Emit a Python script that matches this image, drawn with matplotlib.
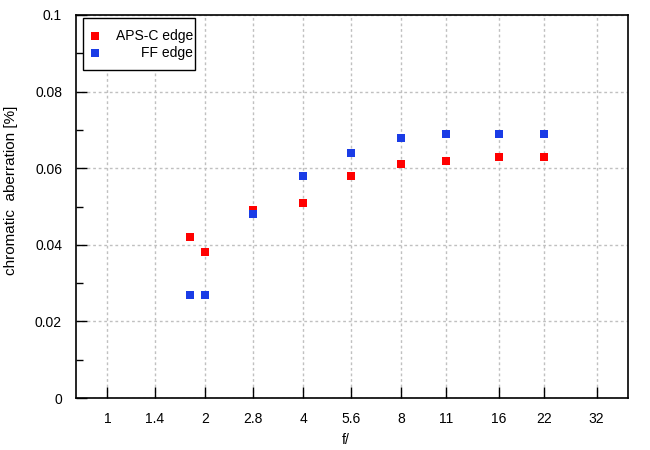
import matplotlib
matplotlib.use("Agg")
import matplotlib.pyplot as plt
from matplotlib.ticker import FixedLocator, NullLocator, MultipleLocator
from matplotlib.patches import Rectangle

plt.rcParams['font.family'] = ['Liberation Sans', 'DejaVu Sans']

f_stops = [1.8, 2, 2.8, 4, 5.6, 8, 11, 16, 22]
aps_c_edge = [0.042, 0.038, 0.049, 0.051, 0.058, 0.061, 0.062, 0.063, 0.063]
ff_edge = [0.027, 0.027, 0.048, 0.058, 0.064, 0.068, 0.069, 0.069, 0.069]
x_ticks = [1, 1.4, 2, 2.8, 4, 5.6, 8, 11, 16, 22, 32]
x_tick_labels = ['1', '1.4', '2', '2.8', '4', '5.6', '8', '11', '16', '22', '32']
y_ticks = [0, 0.02, 0.04, 0.06, 0.08, 0.1]
y_tick_labels = ['0', '0.02', '0.04', '0.06', '0.08', '0.1']

red = '#ff0000'
blue = '#1a3ce6'
fs = 10

fig = plt.figure(figsize=(6.5, 4.5), dpi=100)
ax = fig.add_axes([76/650, 1-398/450, (628-76)/650, (398-15)/450])

ax.set_xscale('log', base=2)
ax.set_xlim(0.8, 40)
ax.set_ylim(0, 0.1)

ax.plot(f_stops, aps_c_edge, 's', color=red, markersize=5.2, markeredgewidth=0, zorder=3)
ax.plot(f_stops, ff_edge, 's', color=blue, markersize=5.2, markeredgewidth=0, zorder=3)

ax.xaxis.set_major_locator(FixedLocator(x_ticks))
ax.xaxis.set_minor_locator(NullLocator())
ax.set_xticklabels(x_tick_labels)
ax.set_yticks(y_ticks)
ax.set_yticklabels(y_tick_labels)
ax.yaxis.set_minor_locator(MultipleLocator(0.01))

ax.tick_params(axis='both', which='major', direction='in', length=8, width=1,
               labelsize=fs, colors='black', top=False, right=False)
ax.tick_params(axis='x', pad=10)
ax.tick_params(axis='y', pad=10)
ax.tick_params(axis='y', which='minor', direction='in', length=5, width=1, right=False)

for s in ax.spines.values():
    s.set_linewidth(1.2)
    s.set_color('black')

ax.grid(True, which='major', color='#c0c0c0', linestyle=(0, (2, 2)), linewidth=1)
ax.set_axisbelow(True)

xl = ax.set_xlabel('f/', fontsize=fs, va='center', ha='center')
ax.xaxis.set_label_coords((346-76)/552, (398-440)/383)
yl = ax.set_ylabel('chromatic  aberration [%]', fontsize=11, va='center', ha='center')
ax.yaxis.set_label_coords((11-76)/552, (398-190)/383)

# legend box (gnuplot style: marker left, text right-aligned)
lx0, lx1 = (83-76)/552, (195-76)/552
ly0, ly1 = (398-70)/383, (398-18)/383
ax.add_patch(Rectangle((lx0, ly0), lx1-lx0, ly1-ly0, transform=ax.transAxes,
                       facecolor='white', edgecolor='black', linewidth=1, zorder=4))
entries = [('APS-C edge', red, 36), ('FF edge', blue, 53)]
for label, col, ypix in entries:
    yy = (398-ypix)/383
    ax.plot([(95-76)/552], [yy], 's', color=col, markersize=5.2, markeredgewidth=0,
            transform=ax.transAxes, zorder=5, clip_on=False)
    ax.text((193-76)/552, yy, label, transform=ax.transAxes, ha='right', va='center',
            fontsize=fs, zorder=5)

fig.savefig('out.png', dpi=100)
